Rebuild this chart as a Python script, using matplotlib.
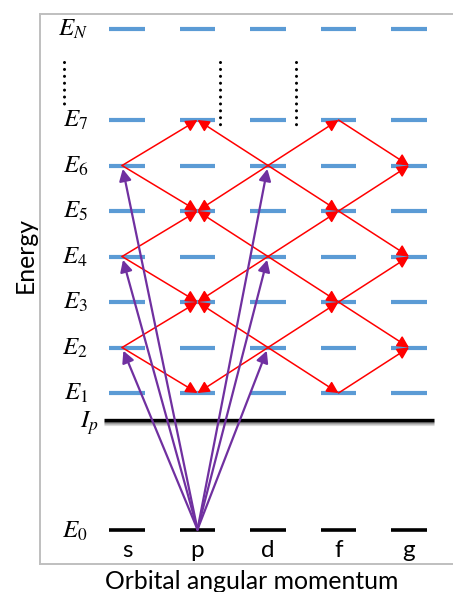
import matplotlib
matplotlib.use("Agg")
import matplotlib.pyplot as plt
from matplotlib.patches import FancyArrowPatch

# ---------------- data ----------------
columns = ['s', 'p', 'd', 'f', 'g']
level_labels = [r'$E_1$', r'$E_2$', r'$E_3$', r'$E_4$', r'$E_5$', r'$E_6$', r'$E_7$', r'$E_N$']
level_energies = [1, 2, 3, 4, 5, 6, 7, 9]
ground_label = r'$E_0$'
ground_energy = -2.0
ip_label = r'$I_p$'
ip_energy = 0.41
xlabel = 'Orbital angular momentum'
ylabel = 'Energy'

# purple: excitation from ground p state
purple_start = ('p', 0)
purple_targets = [('s', 2), ('s', 4), ('s', 6), ('d', 2), ('d', 4), ('d', 6)]

# red: (from column, from level, to column, to level)
red_transitions = [
    ('s', 2, 'p', 1), ('s', 2, 'p', 3), ('s', 4, 'p', 3), ('s', 4, 'p', 5),
    ('s', 6, 'p', 5), ('s', 6, 'p', 7),
    ('d', 2, 'p', 1), ('d', 2, 'p', 3), ('d', 4, 'p', 3), ('d', 4, 'p', 5),
    ('d', 6, 'p', 5), ('d', 6, 'p', 7),
    ('d', 2, 'f', 1), ('d', 2, 'f', 3), ('d', 4, 'f', 3), ('d', 4, 'f', 5),
    ('d', 6, 'f', 5), ('d', 6, 'f', 7),
    ('f', 1, 'g', 2), ('f', 3, 'g', 2), ('f', 3, 'g', 4), ('f', 5, 'g', 4),
    ('f', 5, 'g', 6), ('f', 7, 'g', 6),
]

# ---------------- style / layout ----------------
BLUE = '#5B9BD5'
RED = '#FF0000'
PURPLE = '#7030A0'
FRAME = '#BFBFBF'
node_offset = {'s': -0.07}
half_w = 0.25

plt.rcParams['mathtext.fontset'] = 'stix'

W, H = 453, 592
fig = plt.figure(figsize=(W / 100, H / 100), dpi=100)
ax = fig.add_axes([40 / W, 28 / H, 1 - 40 / W, (564 - 14) / H])
ax.set_xlim(-1.234, 4.624)
ax.set_ylim(-2.758, 9.33)
ax.set_xticks([])
ax.set_yticks([])
for side in ['left', 'top', 'bottom']:
    ax.spines[side].set_color(FRAME)
    ax.spines[side].set_linewidth(1.4)
ax.spines['right'].set_visible(False)

xpos = {c: i for i, c in enumerate(columns)}
energy_of = {i + 1: e for i, e in enumerate(level_energies[:7])}
energy_of[0] = ground_energy


def node(c, n):
    return (xpos[c] + node_offset.get(c, 0.0), energy_of[n])


# levels
for c in columns:
    x = xpos[c]
    for e in level_energies:
        ax.plot([x - half_w, x + half_w], [e, e], color=BLUE, lw=3.0,
                solid_capstyle='butt', zorder=2)
    ax.plot([x - half_w, x + half_w], [ground_energy, ground_energy], color='black',
            lw=2.6, solid_capstyle='butt', zorder=2)

# ionisation line with a soft shadow
ip_x0, ip_x1 = -0.33, 4.35
px = 1 / 45.5
shades = ['#707070', '#9a9a9a', '#bdbdbd', '#dadada']
for k, col in enumerate(shades):
    ax.plot([ip_x0, ip_x1], [ip_energy - px * (2.0 + k)] * 2, color=col, lw=0.8,
            solid_capstyle='butt', zorder=2)
ax.plot([ip_x0, ip_x1], [ip_energy, ip_energy], color='black', lw=2.4,
        solid_capstyle='butt', zorder=3)

# labels on the left
lab_x = -0.553
for lab, e in zip(level_labels, level_energies):
    ax.text(lab_x, e - 0.15, lab, ha='right', va='baseline', fontsize=18)
ax.text(lab_x, ground_energy - 0.17, ground_label, ha='right', va='baseline', fontsize=18)
ax.text(-0.40, ip_energy - 0.18, ip_label, ha='right', va='baseline', fontsize=18)

# dotted "continuation" marks
dot_x = [-0.89, 1.32, 2.40]
dot_bottom = [7.22, 6.78, 6.78]
for x, yb in zip(dot_x, dot_bottom):
    ax.plot([x, x], [8.27, yb], color='black', lw=2.2,
            linestyle=(0, (0.01, 2.25)), dash_capstyle='round', zorder=2)

# red transitions
for c0, n0, c1, n1 in red_transitions:
    a = FancyArrowPatch(node(c0, n0), node(c1, n1),
                        arrowstyle='-|>,head_length=0.7,head_width=0.36',
                        mutation_scale=10, color=RED, lw=1.1,
                        shrinkA=0, shrinkB=0, zorder=4)
    ax.add_patch(a)

# purple excitations
for c, n in purple_targets:
    a = FancyArrowPatch(node(*purple_start), node(c, n),
                        arrowstyle='-|>,head_length=0.7,head_width=0.36',
                        mutation_scale=10, color=PURPLE, lw=1.6,
                        shrinkA=0, shrinkB=2.5, zorder=5)
    ax.add_patch(a)

# column labels
for c in columns:
    ax.text(xpos[c], -2.60, c, ha='center', va='baseline', fontsize=17.5,
            family='Lato')

fig.text(252 / W, 3 / H, xlabel, ha='center', va='baseline', fontsize=17.8, family='Lato')
fig.text(25 / W, 1 - 255 / H, ylabel, ha='center', va='center', rotation=90,
         fontsize=17.8, family='Lato')

fig.savefig('out.png', dpi=100)
